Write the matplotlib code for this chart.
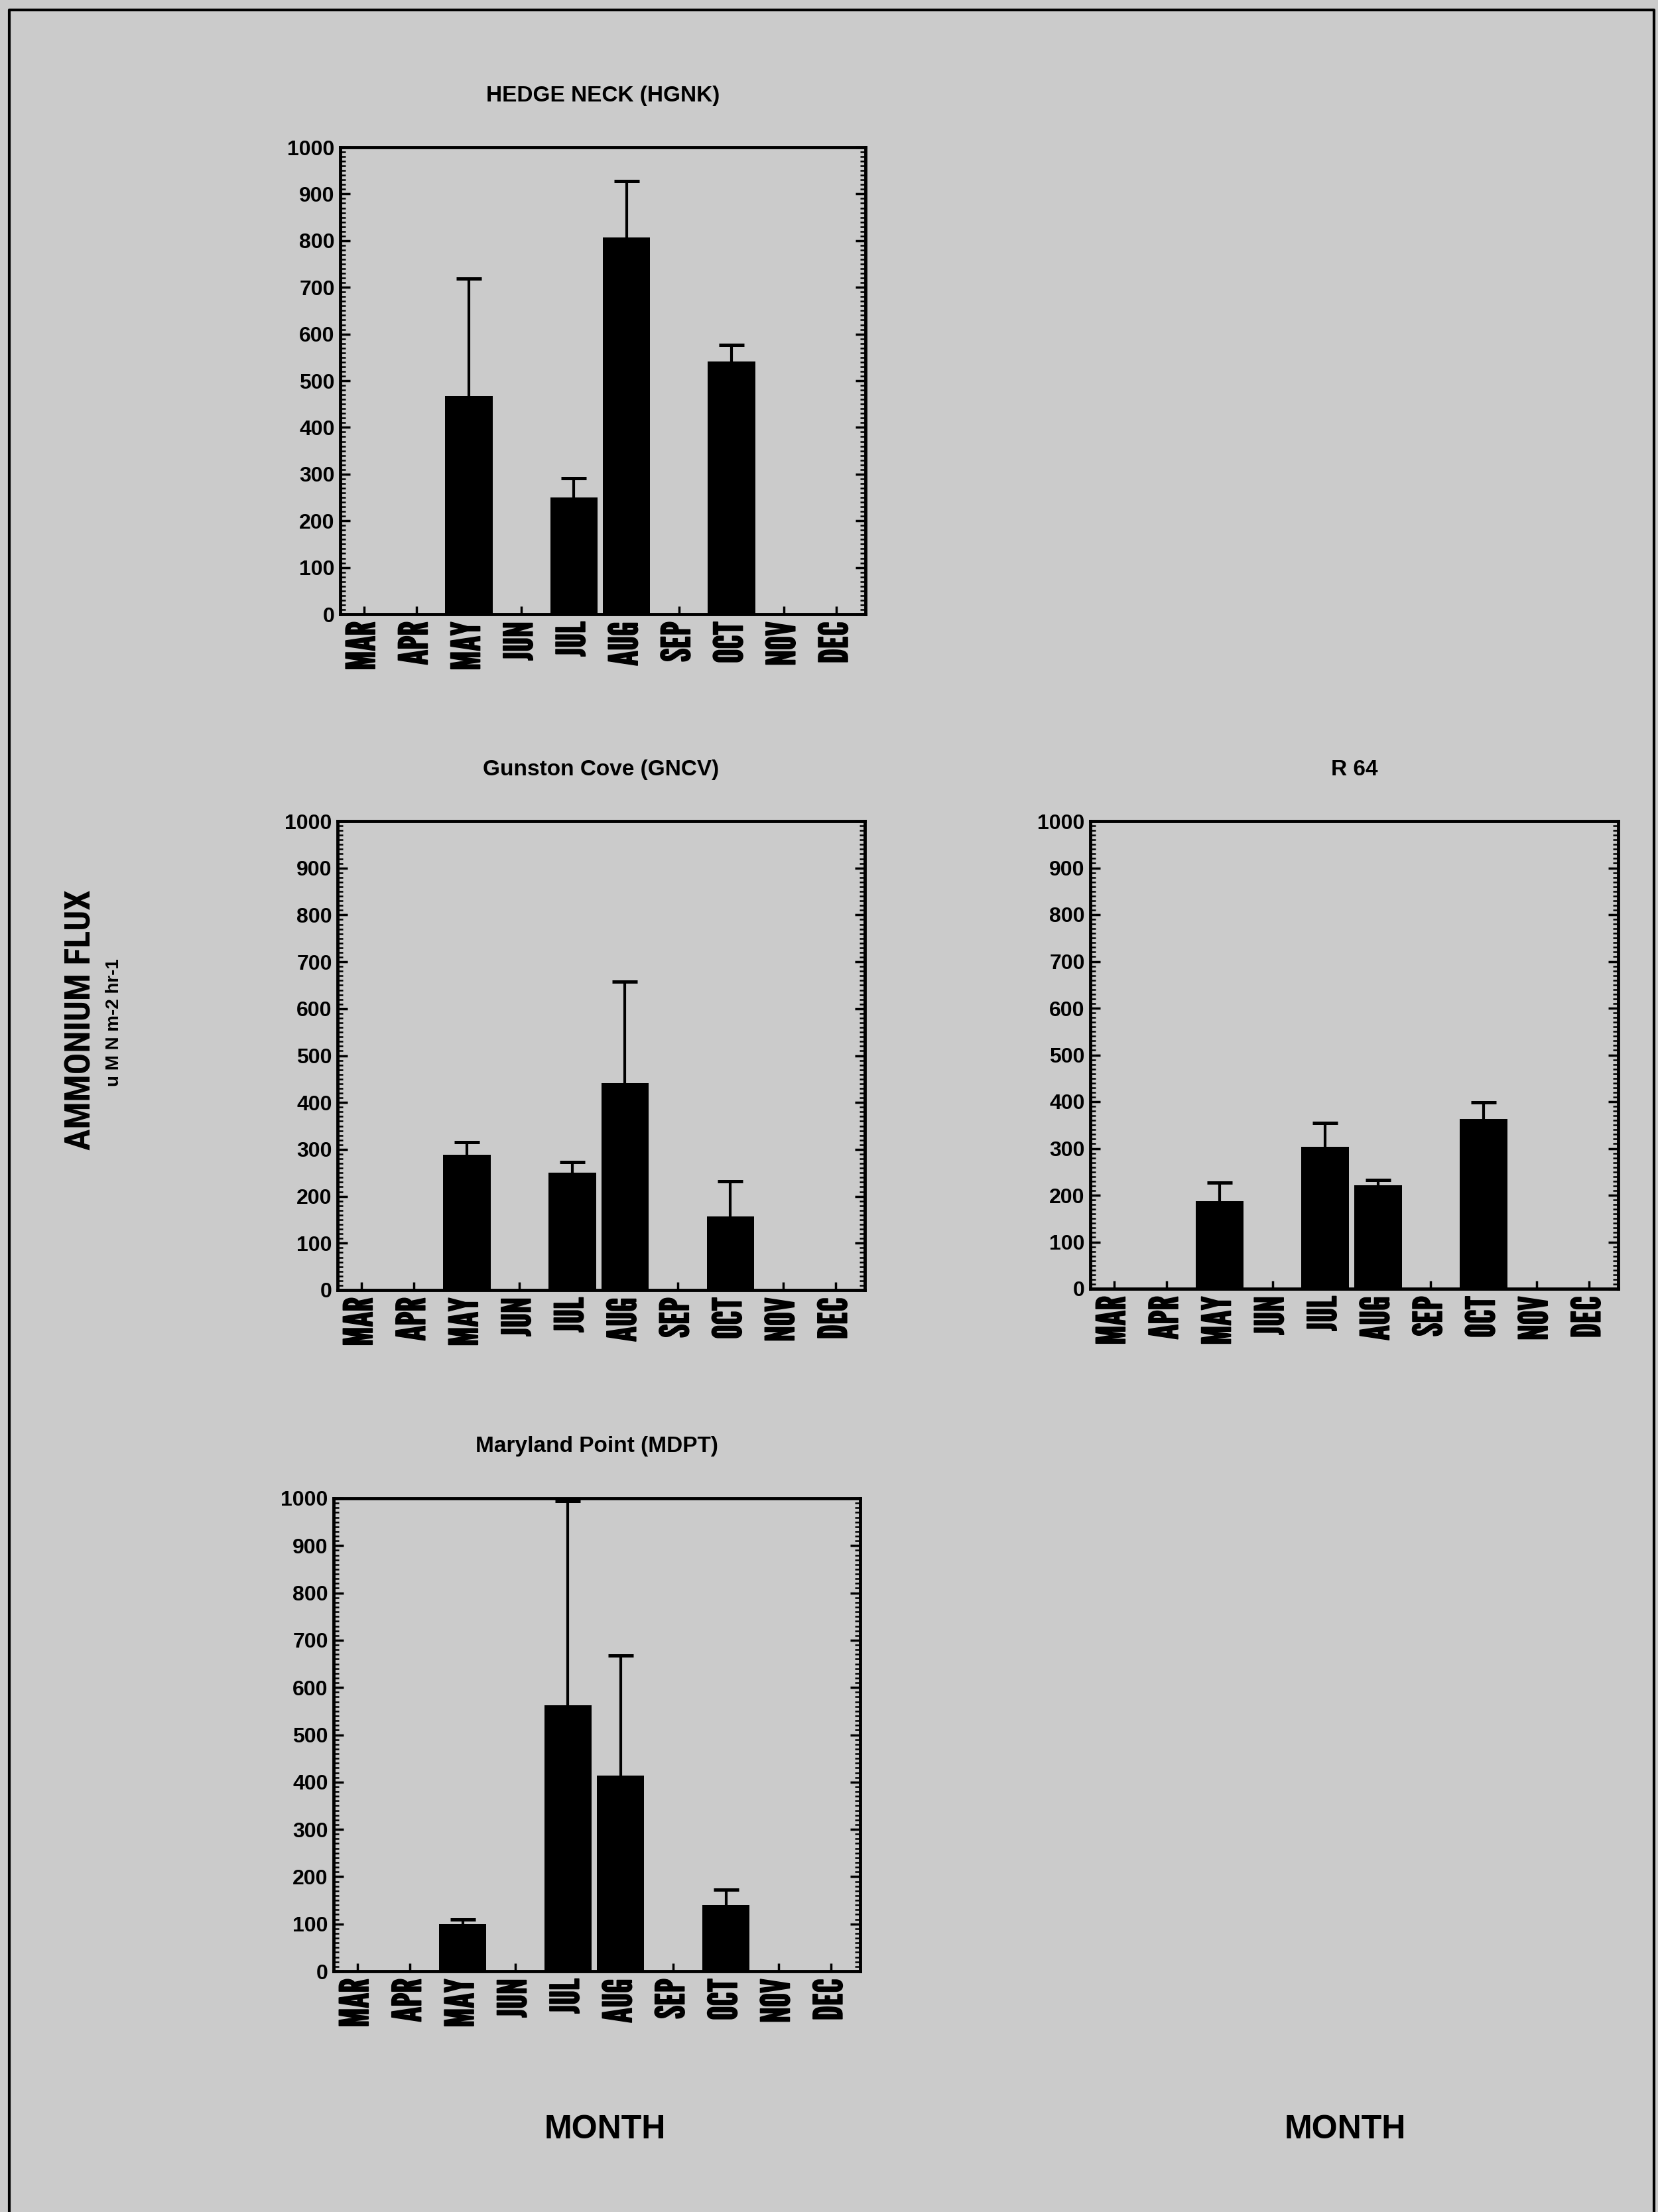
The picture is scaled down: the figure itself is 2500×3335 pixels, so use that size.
import numpy as np
import matplotlib
matplotlib.use("Agg")
import matplotlib.pyplot as plt
import matplotlib.patheffects as pe
from matplotlib.lines import Line2D
from matplotlib.ticker import MultipleLocator

months = ["MAR", "APR", "MAY", "JUN", "JUL", "AUG", "SEP", "OCT", "NOV", "DEC"]

# months with samples (same for every station)
sampled = ["MAY", "JUL", "AUG", "OCT"]

# ammonium flux (bar) and top of the error bar, uM N m-2 hr-1
hgnk_flux = [468, 250, 807, 541]
hgnk_top = [719, 291, 928, 576]

gncv_flux = [288, 251, 442, 157]
gncv_top = [316, 273, 658, 232]

r64_flux = [187, 303, 221, 363]
r64_top = [227, 354, 232, 399]

mdpt_flux = [100, 562, 414, 140]
mdpt_top = [109, 995, 668, 173]

BG = "#cbcbcb"
W, H = 2500, 3335
heavy = [pe.withStroke(linewidth=1.2, foreground="black")]


def draw_panel(ax, title, flux, top):
    x = np.array([months.index(m) for m in sampled])
    flux = np.array(flux, dtype=float)
    top = np.array(top, dtype=float)

    # only the upper error is drawn
    _, caps, _ = ax.errorbar(x, flux, yerr=[np.zeros_like(flux), top - flux], fmt="none",
                             ecolor="black", elinewidth=3.0, capsize=14, capthick=3.6,
                             zorder=1)
    for c in caps:
        if np.allclose(c.get_ydata(), flux):
            c.set_visible(False)
    ax.bar(x, flux, width=0.9, color="black", zorder=2)

    ax.set_xlim(-0.45, 9.55)
    ax.set_ylim(0, 1000)
    ax.set_facecolor("none")
    for s in ax.spines.values():
        s.set_linewidth(3.5)

    ax.set_xticks(range(len(months)))
    ax.set_xticklabels(months, rotation=90, fontfamily="League Gothic", fontsize=43)
    for lab in ax.get_xticklabels():
        lab.set_path_effects(heavy)
    ax.tick_params(axis="x", direction="in", length=9, width=2.5, top=False, pad=8)

    ax.yaxis.set_major_locator(MultipleLocator(100))
    ax.yaxis.set_minor_locator(MultipleLocator(10))
    ax.tick_params(axis="y", which="major", direction="in", length=11, width=2.5,
                   right=True, labelsize=23, pad=6)
    ax.tick_params(axis="y", which="minor", direction="in", length=6, width=1.8, right=True)
    for lab in ax.get_yticklabels():
        lab.set_fontfamily("Liberation Sans")
        lab.set_fontweight("bold")

    ax.text(0.5, 1.11, title, transform=ax.transAxes, ha="center", va="center",
            fontfamily="Liberation Sans", fontweight="bold", fontsize=24)


fig = plt.figure(figsize=(W / 100, H / 100), dpi=100, facecolor=BG)

# axes boxes in pixels (left, top, right, bottom)
boxes = {
    "hgnk": (513, 222, 1305, 926),
    "gncv": (509, 1238, 1304, 1945),
    "r64": (1644, 1238, 2440, 1943),
    "mdpt": (503, 2259, 1297, 2972),
}


def px_axes(b):
    l, t, r, btm = b
    return fig.add_axes([l / W, 1 - btm / H, (r - l) / W, (btm - t) / H])


draw_panel(px_axes(boxes["hgnk"]), "HEDGE NECK (HGNK)", hgnk_flux, hgnk_top)
draw_panel(px_axes(boxes["gncv"]), "Gunston Cove (GNCV)", gncv_flux, gncv_top)
draw_panel(px_axes(boxes["r64"]), "R 64", r64_flux, r64_top)
draw_panel(px_axes(boxes["mdpt"]), "Maryland Point (MDPT)", mdpt_flux, mdpt_top)

# shared labels
fig.text(122 / W, 1 - 1538 / H, "AMMONIUM FLUX", rotation=90, ha="center", va="center",
         fontfamily="Roboto Condensed", fontweight="bold", fontsize=39)
fig.text(172 / W, 1 - 1542 / H, "u M N m-2 hr-1", rotation=90, ha="center", va="center",
         fontfamily="Liberation Sans", fontweight="bold", fontsize=20)
for xc in (912, 2028):
    fig.text(xc / W, 1 - 3211 / H, "MONTH", ha="center", va="center",
             fontfamily="Liberation Sans", fontweight="bold", fontsize=36)

# page frame
fx0, fx1, fy0 = 14 / W, 2494 / W, 1 - 15 / H
fig.add_artist(Line2D([fx0, fx0, fx1, fx1], [0, fy0, fy0, 0], transform=fig.transFigure,
                      color="black", linewidth=3))

fig.savefig("out.png", dpi=100, facecolor=BG)
